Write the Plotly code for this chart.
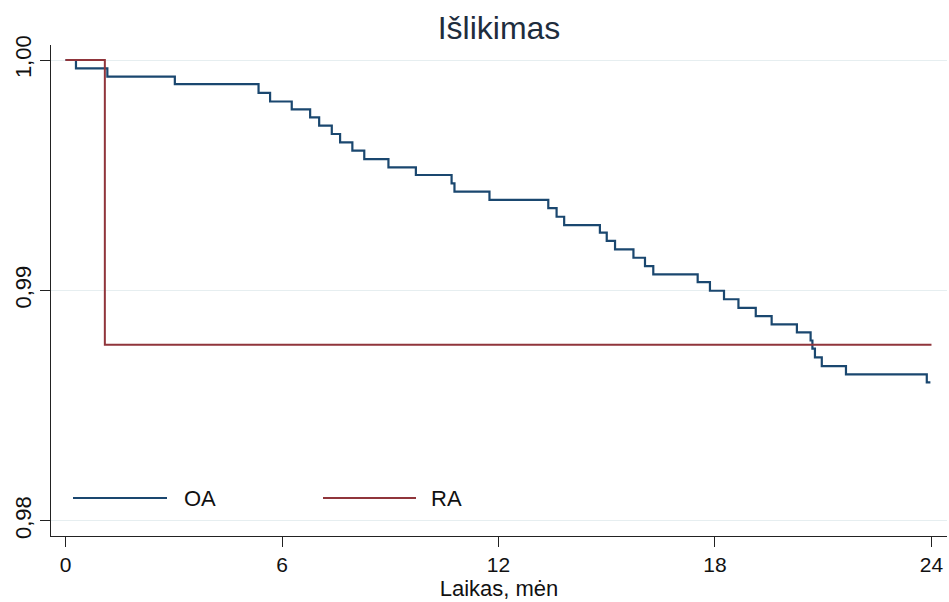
import plotly.graph_objects as go

# Data (Kaplan-Meier survival, months)
oa_time = [0, 0.29, 1.16, 3.03, 5.35, 5.67, 6.27, 6.78, 7.03, 7.38, 7.61, 7.95, 8.28, 8.95,
           9.71, 10.70, 10.78, 11.75, 13.38, 13.61, 13.82, 14.81, 15.00, 15.23, 15.74,
           16.06, 16.29, 17.52, 17.86, 18.25, 18.65, 19.13, 19.57, 20.27, 20.65, 20.70,
           20.77, 20.96, 21.63, 23.87, 23.97]
oa_surv = [1.0, 0.99964, 0.99928, 0.99895, 0.99857, 0.99820, 0.99786, 0.99751, 0.99715,
           0.99679, 0.99643, 0.99607, 0.99570, 0.99534, 0.99501, 0.99465, 0.99429, 0.99393,
           0.99357, 0.99320, 0.99284, 0.99251, 0.99215, 0.99178, 0.99142, 0.99106, 0.99070,
           0.99036, 0.98999, 0.98962, 0.98925, 0.98889, 0.98853, 0.98818, 0.98783, 0.98748,
           0.98710, 0.98672, 0.98636, 0.98601, 0.98601]
ra_time = [0, 1.09, 24.0]
ra_surv = [1.0, 0.98765, 0.98765]

x_ticks = [0, 6, 12, 18, 24]
y_ticks = [0.98, 0.99, 1.00]
y_ticktext = ["0,98", "0,99", "1,00"]

series_names = ["OA", "RA"]
colors = ["#1a476f", "#90353b"]

FONT = "Liberation Sans Narrow, Liberation Sans, Arial, sans-serif"

fig = go.Figure()
fig.add_trace(go.Scatter(x=oa_time, y=oa_surv, mode="lines", line_shape="hv",
                         line=dict(color=colors[0], width=2.2), name=series_names[0],
                         showlegend=False))
fig.add_trace(go.Scatter(x=ra_time, y=ra_surv, mode="lines", line_shape="hv",
                         line=dict(color=colors[1], width=2), name=series_names[1],
                         showlegend=False))

# Manual legend (long line samples like the original)
leg_y = 1 - (498 - 45) / 491
legend_items = [(73, 167, 182), (323, 416, 429)]
for (x0, x1, xt), name, col in zip(legend_items, series_names, colors):
    fig.add_shape(type="line", xref="paper", yref="paper",
                  x0=(x0 - 51) / 896, x1=(x1 - 51) / 896, y0=leg_y, y1=leg_y,
                  line=dict(color=col, width=2.2))
    fig.add_annotation(xref="paper", yref="paper", x=(xt - 51) / 896, y=leg_y,
                       text=name, showarrow=False, xanchor="left", yanchor="middle",
                       font=dict(family=FONT, size=22, color="#111111"))

fig.update_layout(
    width=949, height=602,
    margin=dict(l=51, r=2, t=45, b=66, autoexpand=False),
    paper_bgcolor="white", plot_bgcolor="white",
    title=dict(text="Išlikimas", x=(499) / 949, xanchor="center", y=1 - 28 / 602,
               yanchor="middle", font=dict(family=FONT, size=32, color="#1e2d3d")),
    font=dict(family=FONT, size=20, color="#111111"),
)
fig.update_xaxes(range=[-0.402, 24.43], tickvals=x_ticks, ticks="outside", ticklen=10,
                 tickwidth=1.3, tickcolor="#222", showline=True, linecolor="#222",
                 linewidth=1.3, showgrid=False, zeroline=False,
                 tickfont=dict(family=FONT, size=21),
                 title=dict(text="Laikas, mėn", font=dict(family=FONT, size=22), standoff=0))
fig.update_yaxes(range=[0.979349, 1.000651], tickvals=y_ticks, ticktext=y_ticktext,
                 ticks="outside", ticklen=10, tickwidth=1.3, tickcolor="#222",
                 showline=True, linecolor="#222", linewidth=1.3,
                 showgrid=True, gridcolor="#e6eef0", gridwidth=1.3, zeroline=False,
                 tickangle=-90, tickfont=dict(family=FONT, size=22))

fig.write_html("out.html", config={"displayModeBar": False},
               post_script="document.body.style.margin='0';document.body.style.overflow='hidden';")
